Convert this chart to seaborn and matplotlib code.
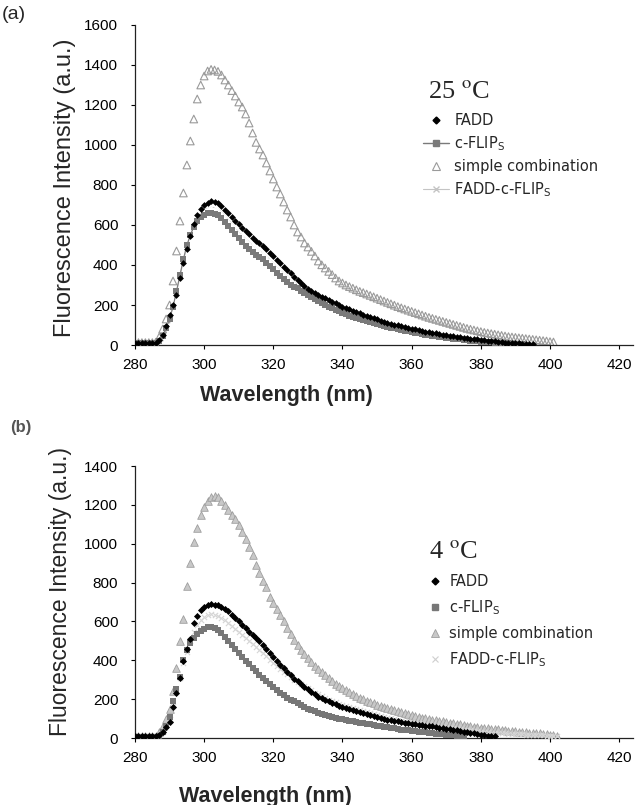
import numpy as np
import pandas as pd
import matplotlib
matplotlib.use("Agg")
import matplotlib.pyplot as plt
from matplotlib.lines import Line2D
from matplotlib.font_manager import FontProperties
import seaborn as sns

# ---------------- data (fluorescence intensity, 1 nm steps from 280 nm) ----------------
START_NM = 280

# (a) 25 °C
top_fadd = [
    10, 10, 10, 10, 10, 10, 12, 25, 50, 95,
    150, 200, 250, 335, 410, 480, 545, 605, 650, 680,
    700, 712, 718, 716, 708, 695, 675, 658, 640, 622,
    603, 585, 568, 553, 535, 520, 508, 495, 478, 460,
    443, 425, 410, 392, 375, 358, 342, 325, 310, 295,
    282, 272, 262, 252, 242, 233, 224, 216, 208, 200,
    192, 185, 178, 171, 164, 158, 152, 146, 140, 134,
    128, 122, 117, 112, 107, 102, 98, 94, 90, 86,
    82, 78, 74, 70, 67, 64, 61, 58, 55, 52,
    49, 46, 43, 40, 38, 36, 34, 32, 30, 28,
    26, 24, 22, 20, 18, 16, 14, 12, 11, 10,
    9, 8, 7, 6, 5, 5,
]
top_cflip = [
    8, 8, 8, 8, 8, 8, 10, 20, 45, 85,
    130, 190, 270, 350, 430, 500, 550, 590, 620, 640,
    652, 658, 660, 657, 648, 635, 615, 595, 575, 555,
    535, 515, 497, 480, 465, 450, 440, 428, 412, 395,
    378, 362, 346, 330, 315, 300, 290, 283, 272, 261,
    250, 239, 229, 219, 209, 200, 192, 184, 176, 168,
    161, 154, 147, 141, 135, 129, 124, 119, 114, 109,
    104, 99, 95, 91, 87, 83, 80, 76, 72, 68,
    64, 61, 58, 55, 52, 49, 46, 43, 40, 38,
    36, 34, 32, 30, 28, 26, 24, 22, 20, 18,
    17, 16, 14, 13, 12, 11, 10, 9, 8, 7,
    6, 6, 5,
]
top_simple = [
    12, 12, 12, 12, 12, 12, 14, 40, 80, 130,
    200, 320, 470, 620, 760, 900, 1020, 1130, 1230, 1300,
    1345, 1370, 1378, 1375, 1368, 1350, 1325, 1300, 1272, 1245,
    1215, 1190, 1155, 1110, 1060, 1013, 980, 950, 910, 870,
    830, 790, 755, 715, 675, 640, 600, 565, 540, 510,
    490, 468, 445, 420, 401, 385, 368, 352, 335, 320,
    310, 300, 292, 284, 276, 268, 262, 255, 248, 241,
    234, 227, 220, 213, 206, 199, 192, 186, 180, 174,
    168, 162, 156, 150, 144, 138, 133, 128, 123, 118,
    113, 108, 103, 98, 93, 88, 83, 79, 75, 71,
    67, 63, 60, 57, 54, 51, 48, 45, 42, 40,
    38, 36, 34, 32, 30, 28, 26, 24, 22, 20,
    17, 15,
]
top_complex = [
    10, 10, 10, 10, 10, 10, 12, 22, 48, 90,
    140, 195, 260, 342, 420, 490, 548, 598, 636, 660,
    677, 686, 690, 688, 680, 666, 646, 627, 607, 588,
    568, 549, 532, 516, 500, 485, 473, 460, 444, 427,
    410, 393, 378, 361, 345, 329, 316, 304, 290, 276,
    265, 254, 244, 234, 224, 215, 207, 199, 191, 184,
    177, 170, 163, 157, 151, 145, 139, 134, 129, 124,
    119, 114, 109, 105, 101, 97, 93, 89, 85, 81,
    77, 73, 69, 66, 63, 60, 57, 54, 51, 48,
    45, 42, 40, 38, 36, 34, 32, 30, 28, 26,
    24, 22, 20, 18, 16, 14, 13, 12, 11, 10,
    9, 8, 7, 6, 5,
]

# (b) 4 °C
bot_fadd = [
    8, 8, 8, 8, 8, 8, 10, 15, 30, 55,
    80, 160, 230, 310, 395, 460, 510, 590, 630, 660,
    675, 684, 688, 687, 682, 674, 664, 652, 635, 618,
    600, 582, 565, 548, 531, 514, 497, 478, 458, 438,
    418, 398, 378, 358, 340, 322, 306, 292, 278, 264,
    250, 236, 224, 213, 204, 196, 188, 181, 174, 167,
    160, 154, 148, 142, 137, 132, 127, 122, 117, 112,
    107, 103, 99, 95, 91, 88, 85, 82, 79, 76,
    73, 70, 68, 66, 64, 62, 60, 57, 54, 51,
    48, 45, 42, 39, 36, 33, 30, 27, 24, 21,
    18, 15, 12, 10, 8,
]
bot_cflip = [
    5, 5, 5, 5, 5, 5, 7, 12, 30, 60,
    110, 190, 250, 312, 400, 455, 490, 515, 535, 552,
    563, 569, 570, 566, 556, 540, 520, 498, 478, 458,
    438, 418, 398, 380, 362, 344, 326, 310, 294, 278,
    262, 246, 232, 220, 208, 198, 188, 178, 168, 159,
    151, 144, 137, 131, 125, 119, 114, 109, 104, 100,
    96, 92, 88, 85, 82, 79, 76, 73, 70, 67,
    64, 61, 58, 55, 52, 49, 46, 43, 41, 39,
    37, 35, 33, 31, 29, 27, 25, 23, 21, 19,
    17, 15, 13, 11, 9, 7,
]
bot_simple = [
    10, 10, 10, 10, 10, 10, 12, 30, 60, 100,
    150, 240, 360, 500, 610, 780, 900, 1010, 1080, 1150,
    1190, 1220, 1240, 1245, 1238, 1222, 1200, 1175, 1150, 1125,
    1095, 1062, 1025, 985, 940, 890, 850, 810, 775, 725,
    695, 665, 632, 600, 568, 535, 505, 478, 452, 430,
    410, 390, 372, 355, 338, 322, 307, 293, 280, 268,
    257, 246, 236, 226, 217, 208, 200, 192, 185, 178,
    171, 165, 159, 153, 147, 142, 137, 132, 127, 122,
    117, 113, 109, 105, 101, 97, 94, 91, 88, 85,
    82, 79, 76, 73, 70, 67, 64, 61, 58, 56,
    54, 52, 50, 48, 46, 44, 42, 40, 38, 36,
    34, 32, 30, 29, 28, 27, 26, 24, 22, 20,
    17, 14, 11,
]
bot_complex = [
    8, 8, 8, 8, 8, 8, 10, 15, 32, 60,
    100, 165, 235, 310, 385, 445, 500, 545, 580, 605,
    622, 632, 636, 634, 628, 618, 605, 592, 578, 563,
    548, 532, 516, 500, 484, 468, 452, 436, 420, 404,
    388, 372, 356, 341, 327, 313, 300, 290, 280, 268,
    256, 245, 234, 224, 215, 206, 198, 191, 184, 177,
    170, 164, 158, 152, 147, 142, 137, 132, 127, 122,
    117, 113, 109, 105, 101, 97, 93, 90, 87, 84,
    81, 78, 75, 72, 69, 66, 63, 60, 57, 55,
    53, 51, 49, 47, 45, 43, 41, 39, 37, 35,
    33, 31, 29, 28, 27, 26, 25, 24, 23, 22,
    21, 20, 19, 18, 17, 16, 15, 14, 13, 12,
    11, 10, 9,
]

series_labels = ["FADD", r"c-FLIP$_\mathrm{S}$", "simple combination", r"FADD-c-FLIP$_\mathrm{S}$"]
x_ticks = [280, 300, 320, 340, 360, 380, 400, 420]
y_ticks_top = [0, 200, 400, 600, 800, 1000, 1200, 1400, 1600]
y_ticks_bot = [0, 200, 400, 600, 800, 1000, 1200, 1400]


def frame(values):
    return pd.DataFrame({"wavelength": np.arange(START_NM, START_NM + len(values)),
                         "intensity": values})


sns.set_theme(style="ticks")
plt.rcParams["font.family"] = ["Liberation Sans", "DejaVu Sans"]

W, H = 636, 805
fig = plt.figure(figsize=(W / 100, H / 100), dpi=100)
ax1 = fig.add_axes([135 / W, 1 - 345 / H, 498 / W, 320 / H])
ax2 = fig.add_axes([135 / W, 1 - 738 / H, 498 / W, 272 / H])

# ---------- panel (a) ----------
sns.scatterplot(data=frame(top_simple), x="wavelength", y="intensity", marker="^", s=30,
                facecolors="none", edgecolors="#9a9a9a", linewidth=0.8, ax=ax1, zorder=2)
sns.lineplot(data=frame(top_complex), x="wavelength", y="intensity", color="#c4c4c4", lw=0.7,
             marker="x", ms=3.5, mew=0.8, ax=ax1, zorder=3)
sns.lineplot(data=frame(top_cflip), x="wavelength", y="intensity", color="#7a7a7a", lw=0.8,
             marker="s", ms=4.2, mew=0, ax=ax1, zorder=4)
sns.scatterplot(data=frame(top_fadd), x="wavelength", y="intensity", marker="D", s=12,
                color="black", edgecolor="black", linewidth=0, ax=ax1, zorder=5)

# ---------- panel (b) ----------
sns.scatterplot(data=frame(bot_simple), x="wavelength", y="intensity", marker="^", s=30,
                color="#c8c8c8", edgecolor="#9e9e9e", linewidth=0.6, ax=ax2, zorder=2)
sns.scatterplot(data=frame(bot_complex), x="wavelength", y="intensity", marker="x", s=14,
                color="#d6d6d6", linewidth=0.8, ax=ax2, zorder=3)
sns.scatterplot(data=frame(bot_cflip), x="wavelength", y="intensity", marker="s", s=18,
                color="#777777", edgecolor="#777777", linewidth=0, ax=ax2, zorder=4)
sns.scatterplot(data=frame(bot_fadd), x="wavelength", y="intensity", marker="D", s=13,
                color="black", edgecolor="black", linewidth=0, ax=ax2, zorder=5)

for ax, yt in ((ax1, y_ticks_top), (ax2, y_ticks_bot)):
    ax.set_xlim(280, 424)
    ax.set_ylim(0, yt[-1])
    ax.set_xticks(x_ticks)
    ax.set_yticks(yt)
    ax.set_xticklabels([str(v) for v in x_ticks])
    ax.set_yticklabels([str(v) for v in yt])
    sns.despine(ax=ax)
    for s in ("left", "bottom"):
        ax.spines[s].set_linewidth(0.9)
        ax.spines[s].set_color("#222222")
    ax.tick_params(axis="both", direction="out", length=3, width=0.8, labelsize=11,
                   colors="black")
    ax.tick_params(axis="x", pad=6)
    ax.tick_params(axis="y", pad=9)
    ax.set_facecolor("white")

ax1.set_ylabel("Fluorescence Intensity (a.u.)", fontsize=17)
ax1.yaxis.set_label_coords(-0.118, 0.49)
ax2.set_ylabel("Fluorescence Intensity (a.u.)", fontsize=16.5)
ax2.yaxis.set_label_coords(-0.126, 0.54)
ax1.set_xlabel("Wavelength (nm)", fontsize=15.5, fontweight="bold")
ax1.xaxis.set_label_coords(0.305, -0.125)
ax2.set_xlabel("Wavelength (nm)", fontsize=15.5, fontweight="bold")
ax2.xaxis.set_label_coords(0.261, -0.175)

fig.text(2 / W, 1 - 6 / H, "(a)", fontsize=14, va="top", ha="left")
fig.text(10 / W, 1 - 420 / H, "(b)", fontsize=12, va="top", ha="left", color="#555555",
         fontweight="bold")

fig.text(428 / W, 1 - 98 / H, r"25 $^{\mathrm{o}}$C", family="Liberation Serif", fontsize=19,
         math_fontfamily="stix", va="baseline", ha="left")
fig.text(429 / W, 1 - 558 / H, r"4 $^{\mathrm{o}}$C", family="Liberation Serif", fontsize=19,
         math_fontfamily="stix", va="baseline", ha="left")

leg_font = FontProperties(family="DejaVu Sans", size=10.5, math_fontfamily="dejavusans")

top_handles = [
    Line2D([], [], ls="none", marker="D", color="black", ms=3.5),
    Line2D([], [], color="#7a7a7a", marker="s", ms=4, lw=1),
    Line2D([], [], ls="none", marker="^", mfc="none", mec="#9a9a9a", ms=5.5, mew=0.8),
    Line2D([], [], color="#c4c4c4", marker="x", ms=4, lw=0.8),
]
leg1 = ax1.legend(top_handles, series_labels, loc="upper left",
                  bbox_to_anchor=(423 / W, 1 - 113 / H), bbox_transform=fig.transFigure,
                  frameon=False, borderpad=0, borderaxespad=0, handlelength=1.8,
                  handletextpad=0.35, labelspacing=0.42, prop=leg_font)

bot_handles = [
    Line2D([], [], ls="none", marker="D", color="black", ms=3.5),
    Line2D([], [], ls="none", marker="s", color="#777777", ms=4),
    Line2D([], [], ls="none", marker="^", mfc="#c8c8c8", mec="#9e9e9e", ms=5.5, mew=0.6),
    Line2D([], [], ls="none", marker="x", color="#cfcfcf", ms=4, mew=0.8),
]
leg2 = ax2.legend(bot_handles, series_labels, loc="upper left",
                  bbox_to_anchor=(428 / W, 1 - 574 / H), bbox_transform=fig.transFigure,
                  frameon=False, borderpad=0, borderaxespad=0, handlelength=1.0,
                  handletextpad=0.45, labelspacing=0.62, prop=leg_font)

fig.savefig("out.png", dpi=100, facecolor="white")
